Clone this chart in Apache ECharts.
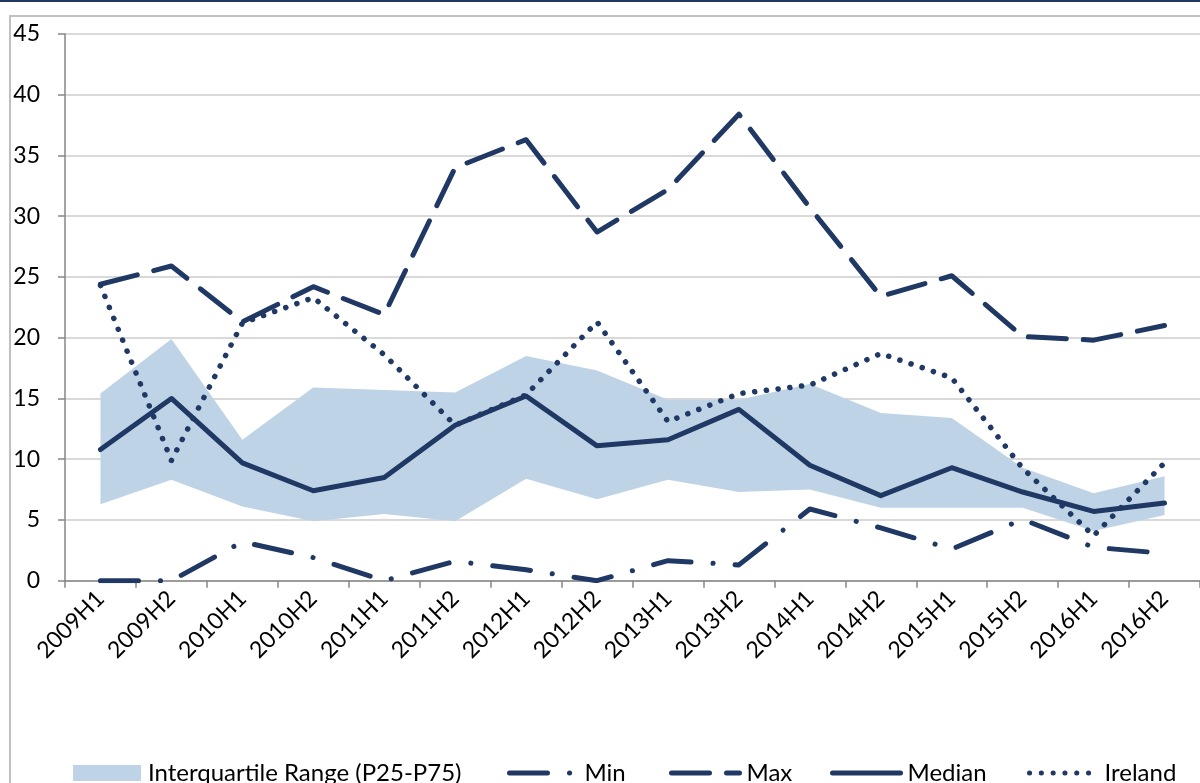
<!DOCTYPE html>
<html>
<head>
<meta charset="utf-8">
<script src="https://cdn.jsdelivr.net/npm/echarts@6/dist/echarts.min.js"></script>
<style>
  html, body { margin: 0; padding: 0; background: #fff; }
  #chart { width: 1200px; height: 783px; }
</style>
</head>
<body>
<div id="chart"></div>
<script>
// 半年度类别
const categories = ['2009H1', '2009H2', '2010H1', '2010H2', '2011H1', '2011H2', '2012H1', '2012H2',
  '2013H1', '2013H2', '2014H1', '2014H2', '2015H1', '2015H2', '2016H1', '2016H2'];

// 四分位区间 P25 / P75
const p25 = [6.3, 8.3, 6.1, 4.9, 5.5, 4.9, 8.4, 6.7, 8.3, 7.3, 7.5, 6.0, 6.0, 6.0, 4.1, 5.4];
const p75 = [15.4, 19.9, 11.6, 15.9, 15.7, 15.5, 18.5, 17.3, 14.9, 14.9, 16.2, 13.8, 13.4, 9.3, 7.2, 8.6];

const minVals = [0, 0, 3.2, 1.9, 0, 1.6, 0.9, 0, 1.65, 1.3, 5.9, 4.35, 2.6, 5.05, 2.75, 2.25];
const maxVals = [24.4, 25.9, 21.3, 24.2, 21.9, 34.0, 36.3, 28.7, 32.2, 38.4, 30.7, 23.4, 25.1, 20.1, 19.8, 21.0];
const median = [10.8, 15.0, 9.7, 7.4, 8.5, 12.8, 15.2, 11.1, 11.6, 14.1, 9.5, 7.0, 9.3, 7.3, 5.7, 6.4];
const ireland = [24.3, 9.9, 21.2, 23.3, 18.6, 12.8, 15.3, 21.3, 13.1, 15.4, 16.1, 18.7, 16.7, 9.25, 3.7, 9.7];

const yTicks = { min: 0, max: 45, interval: 5 };

const navy = '#1f3864';
const bandColor = '#bfd3e6';
const fontFamily = 'Lato, "Noto Sans", sans-serif';
const fontSize = 23;

const chart = echarts.init(document.getElementById('chart'));

// 每个图例单独定位，线型图例隐藏圆点符号
const legendItem = (name, left, isBand) => ({
  left: left,
  top: 761,
  padding: 0,
  itemWidth: 68,
  itemHeight: 16,
  data: [isBand ? { name: name, icon: 'rect' } : name],
  itemStyle: isBand ? { color: bandColor } : { opacity: 0 },
  lineStyle: { width: 5, cap: 'round' },
  textStyle: { color: '#000', fontSize: 24, fontFamily: fontFamily, padding: [0, 0, 0, 2] },
  selectedMode: false
});

const lineSeries = (name, data, dash, width) => ({
  name: name,
  type: 'line',
  data: data,
  symbol: 'none',
  z: 3,
  itemStyle: { color: navy },
  lineStyle: { color: navy, width: width, type: dash, cap: 'round', join: 'round' }
});

const option = {
  animation: false,
  textStyle: { fontFamily: fontFamily },
  graphic: [
    // 顶部深蓝线
    { type: 'rect', shape: { x: 0, y: 0, width: 1200, height: 2 }, style: { fill: navy }, silent: true },
    // 图表外框
    { type: 'rect', shape: { x: 10, y: 16, width: 1400, height: 1000 },
      style: { fill: 'none', stroke: '#c0c0c0', lineWidth: 2 }, silent: true, z: -1 }
  ],
  legend: [
    legendItem('Interquartile Range (P25-P75)', 73, true),
    legendItem('Min', 507),
    legendItem('Max', 669),
    legendItem('Median', 830),
    legendItem('Ireland', 1027)
  ],
  grid: { left: 65, right: 0, top: 34, bottom: 202.3, containLabel: false },
  xAxis: {
    type: 'category',
    data: categories,
    boundaryGap: true,
    axisLine: { lineStyle: { color: '#868686', width: 1.5 } },
    axisTick: { show: true, interval: 0, length: 7, lineStyle: { color: '#868686', width: 1.5 } },
    axisLabel: { interval: 0, rotate: 45, margin: 14, color: '#000', fontSize: fontSize, fontFamily: fontFamily }
  },
  yAxis: {
    type: 'value',
    min: yTicks.min,
    max: yTicks.max,
    interval: yTicks.interval,
    axisLine: { show: true, lineStyle: { color: '#868686', width: 1.5 } },
    axisTick: { show: true, length: 7, lineStyle: { color: '#868686', width: 1.5 } },
    axisLabel: { margin: 25, color: '#000', fontSize: fontSize, fontFamily: fontFamily },
    splitLine: { lineStyle: { color: '#d9d9d9', width: 2 } }
  },
  series: [
    // 区间下沿（透明）
    {
      name: 'p25base',
      type: 'line',
      data: p25,
      stack: 'iqr',
      symbol: 'none',
      lineStyle: { width: 0, opacity: 0 },
      z: 1
    },
    // 区间厚度 P75 - P25
    {
      name: 'Interquartile Range (P25-P75)',
      type: 'line',
      data: p75.map((v, i) => +(v - p25[i]).toFixed(2)),
      stack: 'iqr',
      symbol: 'none',
      itemStyle: { color: bandColor },
      lineStyle: { width: 0, opacity: 0 },
      areaStyle: { color: bandColor, opacity: 1 },
      z: 1
    },
    lineSeries('Min', minVals, [38, 22, 0.1, 22], 5),
    lineSeries('Max', maxVals, [38, 17], 5),
    lineSeries('Median', median, 'solid', 5),
    lineSeries('Ireland', ireland, [0.1, 11.7], 5.5)
  ]
};

chart.setOption(option);
</script>
</body>
</html>
